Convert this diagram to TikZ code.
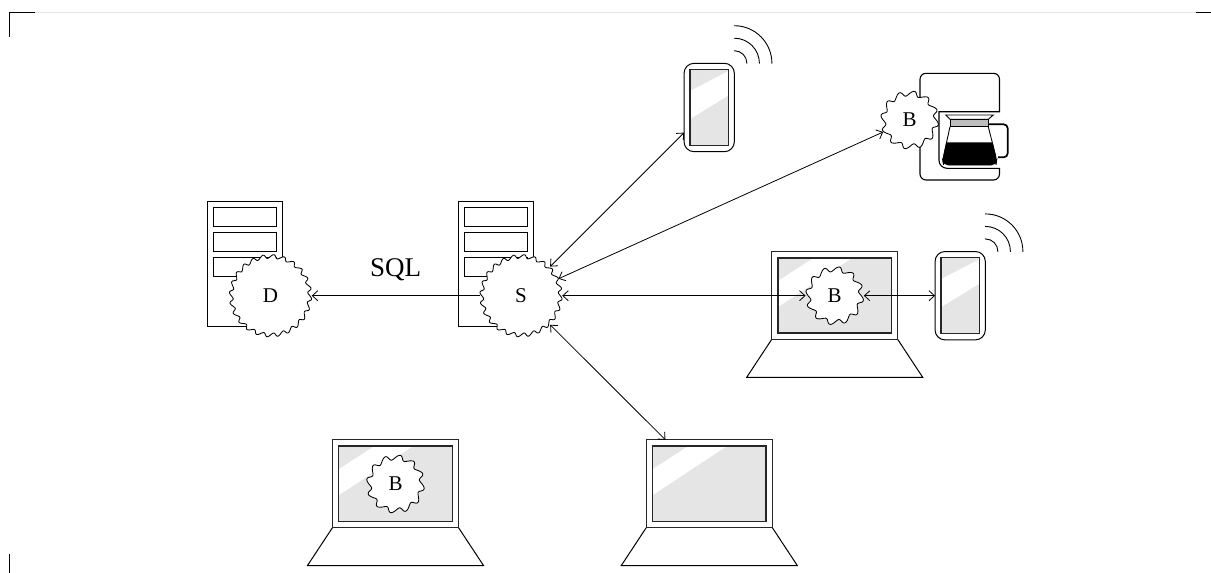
\documentclass[tikz,border=0pt]{standalone}
\usepackage{fontspec}
\setmainfont{Liberation Serif}
\usetikzlibrary{arrows.meta,shapes.geometric}
\definecolor{glass}{HTML}{E5E5E5}
\definecolor{band}{HTML}{BDBDBD}
\tikzset{
  thinline/.style={line width=0.9pt},
  boxline/.style={draw=black,line width=1pt},
  scrline/.style={draw=black!85,line width=1.3pt},
  gearline/.style={draw=black,fill=white,line width=0.85pt,line join=round},
  gearnode/.style={circle,inner sep=0pt,outer sep=0pt,font=\fontsize{21}{21}\selectfont},
  conn/.style={line width=0.8pt,>={Straight Barb[length=5.5pt,width=10pt]}},
  srvbody/.style={rectangle,boxline,fill=white,minimum width=75pt,minimum height=125pt,inner sep=0pt},
  srvslot/.style={rectangle,boxline,fill=white,minimum width=63pt,minimum height=19pt,inner sep=0pt},
  phonebody/.style={rectangle,rounded corners=10pt,boxline,fill=white,minimum width=50.3pt,minimum height=88.4pt,inner sep=0pt,outer sep=0pt},
  lapbody/.style={rectangle,scrline,fill=white,minimum width=126pt,minimum height=87.8pt,inner sep=0pt,outer sep=0pt},
  wave/.style={thinline,line cap=round}
}
% name, x, y, mean radius, amplitude, teeth, label
\newcommand{\GearAt}[7]{%
  \draw[gearline,shift={(#2,#3)}] plot[domain=0:360,samples=#6*10+1,smooth cycle,variable=\t] ({\t+(23/#6)*sin(#6*\t)}:{#4+#5*sin(#6*\t)});
  \node[gearnode,minimum size={2*(#4+#5)*1pt}] (#1) at (#2,#3) {#7};
}
\newcommand{\ServerAt}[3]{%
  \node[srvbody] (#1) at (#2,#3) {};
  \node[srvslot] (#1a) at (#2,#3-46.9) {};
  \node[srvslot] (#1b) at (#2,#3-21.9) {};
  \node[srvslot] (#1c) at (#2,#3+3.1) {};
}
\newcommand{\PhoneAt}[3]{%
  \node[phonebody] (#1) at (#2,#3) {};
  \begin{scope}[shift={(#2,#3)}]
    \fill[glass] (-19.2,-38) rectangle (19.2,38);
    \fill[white] (-19.2,-16.5) -- (19.2,-36.5) -- (19.2,-12) -- (-19.2,11.5) -- cycle;
    \draw[scrline] (-19.2,-38) rectangle (19.2,38);
    \foreach \r in {12.6,25.1,37.6}
      \draw[wave] (25.1,-44.2-\r) .. controls +(0.552*\r,0) and (25.1+\r,-44.2-0.552*\r) .. (25.1+\r,-44.2);
  \end{scope}
}
\newcommand{\LaptopAt}[3]{%
  \begin{scope}[shift={(#2,#3)}]
    \draw[boxline,fill=white] (-63,43.9) -- (-88,81.8) -- (88,81.8) -- (63,43.9);
  \end{scope}
  \node[lapbody] (#1) at (#2,#3) {};
  \begin{scope}[shift={(#2,#3)}]
    \fill[glass] (-56.7,-37.6) rectangle (56.7,37.6);
    \fill[white] (-56.7,-14.5) -- (-21,-37.6) -- (17.5,-37.6) -- (-56.7,11.5) -- cycle;
    \draw[scrline] (-56.7,-37.6) rectangle (56.7,37.6);
  \end{scope}
}
\begin{document}
\begin{tikzpicture}[x=1pt,y=-1pt]
\useasboundingbox (0,0) rectangle (1211,573);
% page marks
\draw[glass,line width=1pt] (35,12) -- (1195.5,12);
\draw[black,line width=1pt] (35,12) -- (9.5,12) -- (9.5,37);
\draw[black,line width=1pt] (1195.5,12) -- (1211,12);
\draw[black,line width=1pt] (9.5,553.5) -- (9.5,573);
% servers
\ServerAt{srvD}{245}{264}
\ServerAt{srvS}{496}{264}
% phones and laptops
\PhoneAt{phA}{709.2}{107.5}
\PhoneAt{phB}{960.2}{295.7}
\LaptopAt{lapR}{834.7}{295.5}
\LaptopAt{lapL}{395.5}{483.7}
\LaptopAt{lapM}{709.3}{483.7}
% coffee machine
\draw[thinline,fill=white,line width=1.1pt] (939,111.7) -- (999.5,111.7) [rounded corners=6pt] -- (999.5,73.3) -- (920,73.3) -- (920,180) -- (999.5,180) [sharp corners] -- (999.5,168.3) [rounded corners=8pt] -- (939,168.3) [sharp corners] -- cycle;
\draw[line width=1.7pt,rounded corners=4pt] (988.3,124.3) -- (1007.7,124.3) -- (1007.7,157.3) -- (998,157.3);
\draw[thinline,fill=white,rounded corners=5pt] (950,126.7) -- (942.7,160) -- (943.5,165) -- (996,165) -- (996.7,160) -- (988.3,126.7);
\fill[black,rounded corners=5pt] (946.2,142.3) [sharp corners] -- (992.6,142.3) [rounded corners=5pt] -- (996.7,160) -- (996,165) -- (943.5,165) -- (942.7,160) [sharp corners] -- cycle;
\draw[thinline,fill=white] (945.7,115) -- (993.3,115) -- (988.3,119.3) -- (950,119.3) -- cycle;
\draw[thinline,fill=band] (950,119.3) rectangle (988.3,126.7);
% gears
\GearAt{D}{270.5}{295.7}{39.3}{1.9}{24}{D}
\GearAt{S}{521}{295.7}{39.3}{1.9}{24}{S}
\GearAt{B1}{834.7}{295.7}{26.6}{2.5}{12}{B}
\GearAt{B2}{395.5}{484}{26.6}{2.5}{12}{B}
\GearAt{B3}{909.7}{120}{26.6}{2.5}{12}{B}
% connectors
\draw[conn,<-] (D) -- (S);
\draw[conn,<->] (S) -- (phA);
\draw[conn,<->] (S) -- (B3);
\draw[conn,<->] (S) -- (B1);
\draw[conn,<->] (B1) -- (phB);
\draw[conn,<->] (S) -- (lapM);
\node[font=\fontsize{27}{27}\selectfont] (sql) at (395.5,270) {SQL};
\end{tikzpicture}
\end{document}
